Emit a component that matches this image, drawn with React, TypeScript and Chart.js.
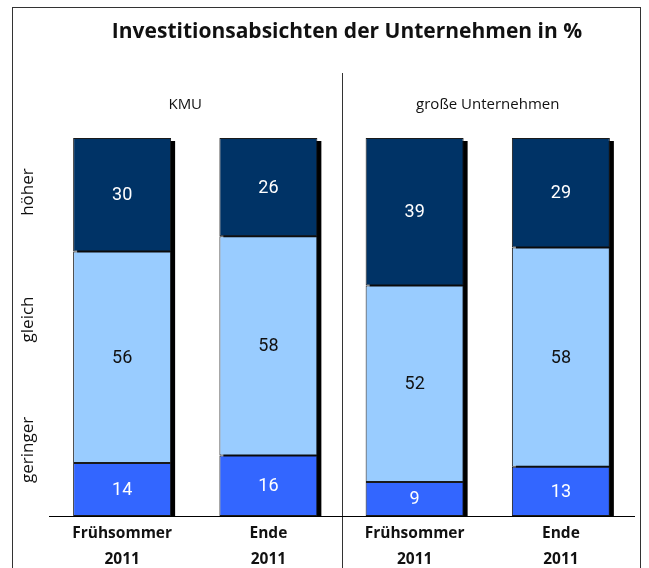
import React, { useEffect, useRef } from "react";
import { Chart, registerables } from "chart.js";

Chart.register(...registerables);

const categories: string[][] = [["Frühsommer", "2011"], ["Ende", "2011"], ["Frühsommer", "2011"], ["Ende", "2011"]];
const geringer = [14, 16, 9, 13];
const gleich = [56, 58, 52, 58];
const hoeher = [30, 26, 39, 29];
const seriesNames = ["geringer", "gleich", "höher"];
const yLabelValues = [17.5, 52, 85.7];
const groupLabels = ["KMU", "große Unternehmen"];
const title = "Investitionsabsichten der Unternehmen in %";

const colors = ["#3366FF", "#99CCFF", "#003366"];
const labelColors = ["#FFFFFF", "#111111", "#FFFFFF"];

const decorPlugin = {
  id: "decor",
  beforeDraw(chart: any) {
    const ctx = chart.ctx;
    ctx.save();
    ctx.fillStyle = "#fff";
    ctx.fillRect(0, 0, chart.width, chart.height);
    ctx.strokeStyle = "#333";
    ctx.lineWidth = 1;
    ctx.strokeRect(12.5, 7.5, 628, 600);
    // title
    ctx.fillStyle = "#111";
    ctx.font = "bold 21px 'Open Sans'";
    ctx.textAlign = "center";
    ctx.textBaseline = "middle";
    ctx.fillText(title, 347, 32);
    // divider
    const xs = chart.scales.x;
    const divX = Math.round((xs.getPixelForValue(1) + xs.getPixelForValue(2)) / 2) + 0.5;
    ctx.beginPath();
    ctx.moveTo(divX, 73);
    ctx.lineTo(divX, chart.height);
    ctx.stroke();
    // group labels
    ctx.font = "15px 'Open Sans'";
    ctx.fillStyle = "#111";
    const g1 = (xs.getPixelForValue(0) + xs.getPixelForValue(1)) / 2 - 10;
    const g2 = (xs.getPixelForValue(2) + xs.getPixelForValue(3)) / 2;
    ctx.fillText(groupLabels[0], g1, 105);
    ctx.fillText(groupLabels[1], g2, 105);
    // y labels
    const ys = chart.scales.y;
    ctx.font = "17px 'Open Sans'";
    seriesNames.forEach((n, i) => {
      ctx.save();
      ctx.translate(28, ys.getPixelForValue(yLabelValues[i]));
      ctx.rotate(-Math.PI / 2);
      ctx.fillText(n, 0, 0);
      ctx.restore();
    });
    ctx.restore();
  },
  beforeDatasetsDraw(chart: any) {
    const ctx = chart.ctx;
    const topMeta = chart.getDatasetMeta(chart.data.datasets.length - 1);
    const bottom = chart.chartArea.bottom;
    ctx.save();
    ctx.fillStyle = "#000";
    topMeta.data.forEach((el: any) => {
      const w = el.width;
      ctx.fillRect(el.x - w / 2 + 4, el.y + 3, w, bottom - el.y - 3);
    });
    ctx.restore();
  },
  afterDatasetsDraw(chart: any) {
    const ctx = chart.ctx;
    ctx.save();
    ctx.font = "18px Roboto";
    ctx.textAlign = "center";
    ctx.textBaseline = "middle";
    chart.data.datasets.forEach((ds: any, di: number) => {
      const meta = chart.getDatasetMeta(di);
      meta.data.forEach((el: any, i: number) => {
        ctx.fillStyle = labelColors[di];
        ctx.fillText(String(ds.data[i]), el.x, (el.y + el.base) / 2 + 1);
      });
    });
    ctx.restore();
  },
};

export default function App() {
  const ref = useRef<HTMLCanvasElement>(null);
  useEffect(() => {
    if (!ref.current) return;
    const chart = new Chart(ref.current, {
      type: "bar",
      data: {
        labels: categories as any,
        datasets: [geringer, gleich, hoeher].map((d, i) => ({
          label: seriesNames[i],
          data: d,
          backgroundColor: colors[i],
          borderColor: "#1a1a1a",
          borderWidth: 1,
          borderSkipped: false,
          barPercentage: 0.67,
          categoryPercentage: 1,
        })),
      },
      options: {
        responsive: false,
        animation: false,
        layout: { padding: { left: 49, right: 15, top: 138, bottom: 0 } },
        plugins: { legend: { display: false }, tooltip: { enabled: false }, title: { display: false } },
        scales: {
          x: {
            stacked: true,
            grid: { display: false, drawTicks: false },
            border: { display: true, color: "#000", width: 1 },
            ticks: {
              color: "#111",
              font: { family: "'Open Sans'", size: 15.5, weight: "bold", lineHeight: 1.68 },
              padding: 5,
              maxRotation: 0,
              autoSkip: false,
            },
            afterFit: (s: any) => {
              s.height = 52;
            },
          },
          y: { stacked: true, min: 0, max: 100, display: false },
        },
      },
      plugins: [decorPlugin],
    });
    return () => chart.destroy();
  }, []);
  return (
    <div style={{ position: "fixed", left: 0, top: 0, width: 649, height: 568 }}>
      <canvas ref={ref} width={649} height={568} style={{ display: "block" }} />
    </div>
  );
}
